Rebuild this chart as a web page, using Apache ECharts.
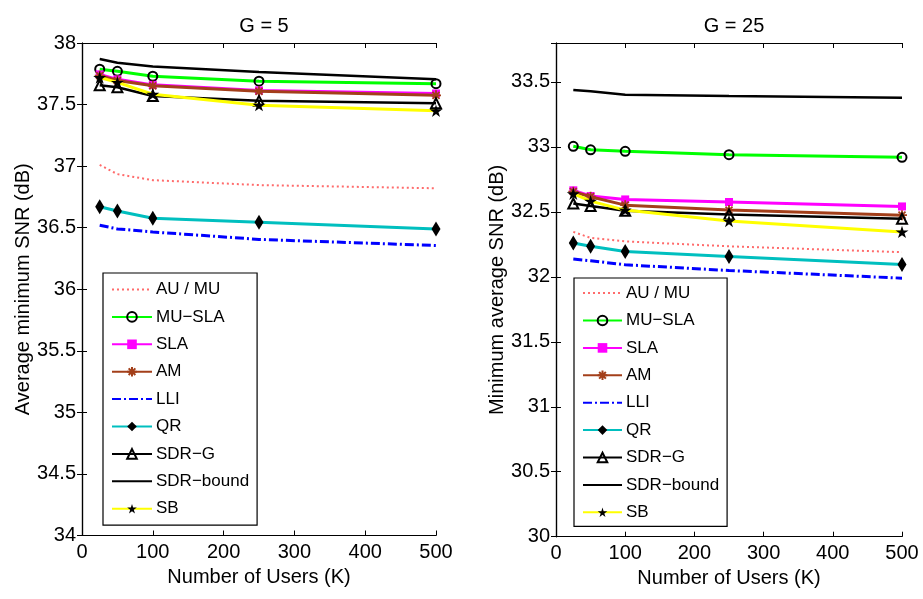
<!DOCTYPE html>
<html>
<head>
<meta charset="utf-8">
<script src="https://cdn.jsdelivr.net/npm/echarts@6/dist/echarts.min.js"></script>
<style>html,body{margin:0;padding:0;background:#fff;}#c{width:923px;height:599px;}</style>
</head>
<body>
<div id="c"></div>
<script>
const users = [25, 50, 100, 250, 500];
const names = ['AU / MU', 'MU\u2212SLA', 'SLA', 'AM', 'LLI', 'QR', 'SDR\u2212G', 'SDR\u2212bound', 'SB'];

// G = 5 (left panel)
const g5_aumu   = [37.01, 36.935, 36.886, 36.846, 36.82];
const g5_musla  = [37.787, 37.77, 37.73, 37.69, 37.67];
const g5_sla    = [37.745, 37.705, 37.66, 37.615, 37.59];
const g5_am     = [37.735, 37.695, 37.652, 37.608, 37.575];
const g5_lli    = [36.52, 36.49, 36.465, 36.405, 36.355];
const g5_qr     = [36.67, 36.635, 36.576, 36.544, 36.49];
const g5_sdrg   = [37.657, 37.64, 37.57, 37.53, 37.51];
const g5_bound  = [37.87, 37.84, 37.81, 37.765, 37.705];
const g5_sb     = [37.72, 37.68, 37.584, 37.495, 37.45];

// G = 25 (right panel)
const g25_aumu  = [32.346, 32.30, 32.273, 32.235, 32.19];
const g25_musla = [33.005, 32.978, 32.966, 32.94, 32.92];
const g25_sla   = [32.666, 32.622, 32.596, 32.576, 32.542];
const g25_am    = [32.656, 32.617, 32.552, 32.514, 32.475];
const g25_lli   = [32.137, 32.124, 32.093, 32.049, 31.99];
const g25_qr    = [32.26, 32.235, 32.196, 32.157, 32.095];
const g25_sdrg  = [32.565, 32.545, 32.509, 32.48, 32.447];
const g25_bound = [33.438, 33.428, 33.402, 33.392, 33.379];
const g25_sb    = [32.64, 32.583, 32.514, 32.43, 32.346];

const titles = ['G = 5', 'G = 25'];
const yNames = ['Average minimum SNR (dB)', 'Minimum average SNR (dB)'];
const xName = 'Number of Users (K)';

const FONT = 'Liberation Sans, Arial, Helvetica, sans-serif';
const STAR = 'path://M0,-10L2.23,-3.07L9.51,-3.09L3.61,1.17L5.88,8.09L0,3.8L-5.88,8.09L-3.61,1.17L-9.51,-3.09L-2.23,-3.07Z';
const ASTER = 'path://M0,-10L0,10M-10,0L10,0M-7,-7L7,7M-7,7L7,-7';

const styles = [
  {line:{color:'#ff6b6b', width:2, type:[2,3]}, symbol:'none'},
  {line:{color:'#00ff00', width:3, type:'solid'}, symbol:'circle', size:9, item:{color:'rgba(0,0,0,0)', borderColor:'#000', borderWidth:2}},
  {line:{color:'#ff00ff', width:3, type:'solid'}, symbol:'rect', size:8, item:{color:'#ff00ff', borderColor:'#ff00ff', borderWidth:0}},
  {line:{color:'#a33f1a', width:3, type:'solid'}, symbol:ASTER, size:10, item:{color:'#a33f1a', borderColor:'#a33f1a', borderWidth:1.8}},
  {line:{color:'#0000ff', width:3, type:[9,3,2,3]}, symbol:'none'},
  {line:{color:'#00bfbf', width:3, type:'solid'}, symbol:'diamond', size:[9,15], item:{color:'#000', borderColor:'#000', borderWidth:0}},
  {line:{color:'#000000', width:2.5, type:'solid'}, symbol:'triangle', size:10, item:{color:'rgba(0,0,0,0)', borderColor:'#000', borderWidth:2}},
  {line:{color:'#000000', width:2.5, type:'solid'}, symbol:'none'},
  {line:{color:'#ffff00', width:3, type:'solid'}, symbol:STAR, size:13, item:{color:'#000', borderColor:'#000', borderWidth:0}}
];

const panels = [
  [g5_aumu, g5_musla, g5_sla, g5_am, g5_lli, g5_qr, g5_sdrg, g5_bound, g5_sb],
  [g25_aumu, g25_musla, g25_sla, g25_am, g25_lli, g25_qr, g25_sdrg, g25_bound, g25_sb]
];

const grids = [
  {left:82, right:487, top:43, bottom:63.5},
  {left:556, right:21, top:43, bottom:62.3}
];
const yRanges = [[34, 38], [30, 33.8]];
const nameGaps = [40, 47];

const tickStyle = {show:true, inside:true, length:5, lineStyle:{color:'#000', width:1}};
const axisLine = {show:true, lineStyle:{color:'#000', width:1.2}};

const xAxis = [], yAxis = [], series = [], title = [], legend = [];
for (let p = 0; p < 2; p++) {
  xAxis.push({gridIndex:p, type:'value', min:0, max:500, interval:100, position:'bottom',
    axisLine, axisTick:tickStyle, splitLine:{show:false},
    axisLabel:{color:'#000', fontSize:20, fontFamily:FONT, margin:7},
    name:xName, nameLocation:'middle', nameGap:30,
    nameTextStyle:{color:'#000', fontSize:20, fontFamily:FONT}});
  xAxis.push({gridIndex:p, type:'value', min:0, max:500, interval:100, position:'top',
    axisLine, axisTick:tickStyle, axisLabel:{show:false}, splitLine:{show:false}});
  yAxis.push({gridIndex:p, type:'value', min:yRanges[p][0], max:yRanges[p][1], interval:0.5, position:'left',
    axisLine, axisTick:tickStyle, splitLine:{show:false},
    axisLabel:{color:'#000', fontSize:20, fontFamily:FONT, margin:6, showMaxLabel: p === 0},
    name:yNames[p], nameLocation:'middle', nameGap:nameGaps[p],
    nameTextStyle:{color:'#000', fontSize:20, fontFamily:FONT}});
  yAxis.push({gridIndex:p, type:'value', min:yRanges[p][0], max:yRanges[p][1], interval:0.5, position:'right',
    axisLine, axisTick:tickStyle, axisLabel:{show:false}, splitLine:{show:false}});

  const cx = p === 0 ? (82 + 436) / 2 : (556 + 902) / 2;
  title.push({text:titles[p], left:cx, top:11, textAlign:'center',
    textStyle:{color:'#000', fontSize:20, fontWeight:'normal', fontFamily:FONT}});

  legend.push({
    data: names.map((n, i) => styles[i].symbol === 'none' ? {name:n, itemStyle:{opacity:0}} : {name:n}),
    orient:'vertical',
    left: p === 0 ? 103 : 574,
    top: p === 0 ? 273 : 278,
    itemWidth: p === 0 ? 40 : 39,
    itemHeight: 12,
    itemGap: 10.4,
    padding: p === 0 ? [8, 8, 8, 8] : [6.6, 8, 5.6, 8],
    borderColor:'#000', borderWidth:1.2, borderRadius:0,
    backgroundColor:'#fff',
    selectedMode:false,
    textStyle:{color:'#000', fontSize:17, fontFamily:FONT, padding:[0,0,0,-1]}
  });

  for (let s = 0; s < 9; s++) {
    const st = styles[s];
    const ser = {
      name: names[s], type:'line',
      xAxisIndex: p * 2, yAxisIndex: p * 2,
      data: users.map((u, i) => [u, panels[p][s][i]]),
      lineStyle: st.line,
      color: st.line.color,
      symbol: st.symbol === 'none' ? 'circle' : st.symbol,
      showSymbol: st.symbol !== 'none',
      symbolSize: st.size || 0,
      symbolKeepAspect: true,
      silent:true,
      animation:false,
      z: 2 + s
    };
    if (st.item) ser.itemStyle = st.item;
    series.push(ser);
  }
}

const chart = echarts.init(document.getElementById('c'), null, {renderer:'canvas'});
chart.setOption({
  backgroundColor:'#fff',
  animation:false,
  title, legend,
  grid: grids,
  xAxis, yAxis, series
});
</script>
</body>
</html>
